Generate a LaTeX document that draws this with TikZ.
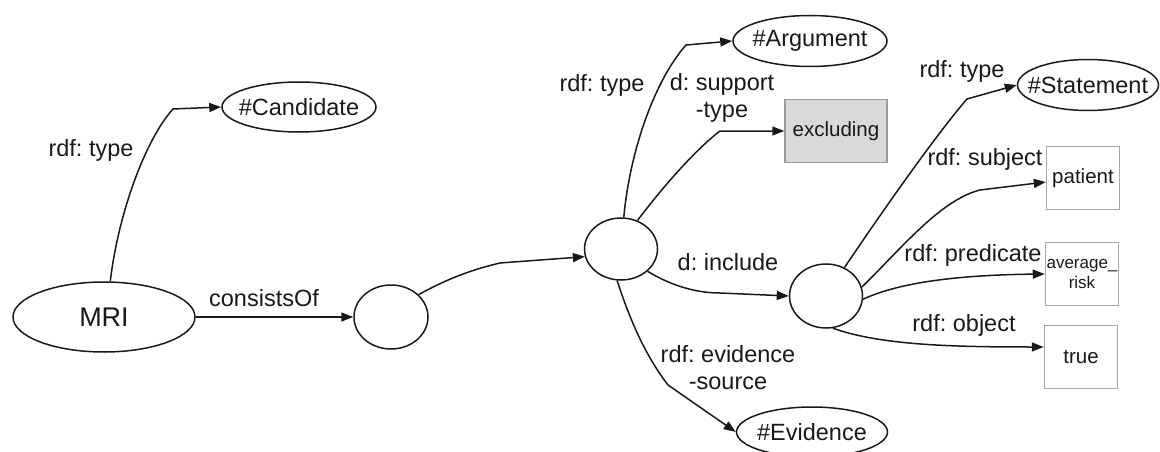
\documentclass[tikz,border=0pt]{standalone}
\usepackage{fontspec}
\setmainfont{Liberation Sans}
\usetikzlibrary{arrows.meta,shapes.geometric}
\frenchspacing
\begin{document}
\begin{tikzpicture}[x=1pt,y=-1pt,
  every node/.style={text=black!90},
  ent/.style={ellipse, draw=black!90, line width=1.5pt, inner sep=0pt,
    font=\fontsize{23.5}{26}\selectfont},
  blank/.style={ellipse, draw=black!90, line width=1.5pt, inner sep=0pt,
    minimum width=73pt, minimum height=63pt},
  lit/.style={rectangle, draw=black!35, line width=1.5pt, inner sep=0pt,
    minimum width=73pt, minimum height=63pt, align=center,
    font=\fontsize{20.5}{23}\selectfont},
  rel/.style={-{Triangle[length=12pt,width=9pt]}, line width=1.5pt, draw=black!90},
  lbl/.style={font=\fontsize{23.5}{27}\selectfont, align=center, inner sep=0pt}]
\useasboundingbox (0,0) rectangle (1160,452);

% resources
\node[ent, minimum width=182pt, minimum height=70pt,
  font=\fontsize{27}{30}\selectfont] (mri) at (104,317) {\makebox[0pt]{MRI}};
\node[ent, minimum width=154pt, minimum height=50pt] (cand) at (299,107) {\makebox[0pt]{\#Candidate}};
\node[blank, minimum width=74pt, minimum height=64pt] (c1) at (391,317) {};
\node[blank, minimum height=62pt] (c2) at (621,249) {};
\node[ent, minimum width=154pt, minimum height=51pt] (arg) at (810,41) {\makebox[0pt]{\#Argument}};
\node[lit, draw=black!40, fill=black!15, minimum width=102pt] (excl) at (836,131) {excluding};
\node[blank, minimum height=64pt] (c3) at (826,296) {};
\node[ent, minimum width=141pt, minimum height=51pt] (stmt) at (1088,85) {\makebox[0pt]{\#Statement}};
\node[lit] (pat) at (1083,178) {patient};
\node[lit, font=\fontsize{17}{20}\selectfont] (avg) at (1082,274) {average\_\\risk};
\node[lit] (tru) at (1081,357) {true};
\node[ent, minimum width=151pt, minimum height=50pt] (ev) at (812,432) {\makebox[0pt]{\#Evidence}};

% properties
\draw[rel] (mri.80) .. controls (118,215) and (145,140) .. (173,109) -- (cand.west);
\draw[rel] (mri.east) -- (c1.west);
\draw[rel] (c1.39) .. controls (445,280) and (470,270) .. (500,263) -- (c2.192);
\draw[rel] (c2.85) .. controls (630,150) and (655,80) .. (686,45) -- (arg.west);
\draw[rel] (c2.60) .. controls (662,188) and (695,150) .. (720,131) -- (excl.west);
\draw[rel] (c2.-40) .. controls (670,285) and (695,293) .. (720,293) -- (c3.west);
\draw[rel] (c2.-97) .. controls (630,320) and (645,355) .. (668,385) -- (ev.west);
\draw[rel] (c3.57) .. controls (890,200) and (940,130) .. (967,99) -- (stmt.west);
\draw[rel] (c3.14) .. controls (900,250) and (940,200) .. (980,190) -- ([yshift=-4pt]pat.west);
\draw[rel] (c3.-5) .. controls (900,282) and (960,275) .. (avg.west);
\draw[rel] (c3.-78) .. controls (880,345) and (950,347) .. ([yshift=10pt]tru.west);

% property labels
\node[lbl] (l1) at (91,150) {rdf: type};
\node[lbl] (l2) at (264,298) {consistsOf};
\node[lbl] (l3) at (602,85) {rdf: type};
\node[lbl] (l4) at (722,98) {d: support\\-type};
\node[lbl] (l5) at (728,262) {d: include};
\node[lbl] (l6) at (728,368) {rdf: evidence\\-source};
\node[lbl] (l7) at (962,71) {rdf: type};
\node[lbl] (l8) at (985,159) {rdf: subject};
\node[lbl] (l9) at (973,255) {rdf: predicate};
\node[lbl] (l10) at (964,325) {rdf: object};
\end{tikzpicture}
\end{document}
